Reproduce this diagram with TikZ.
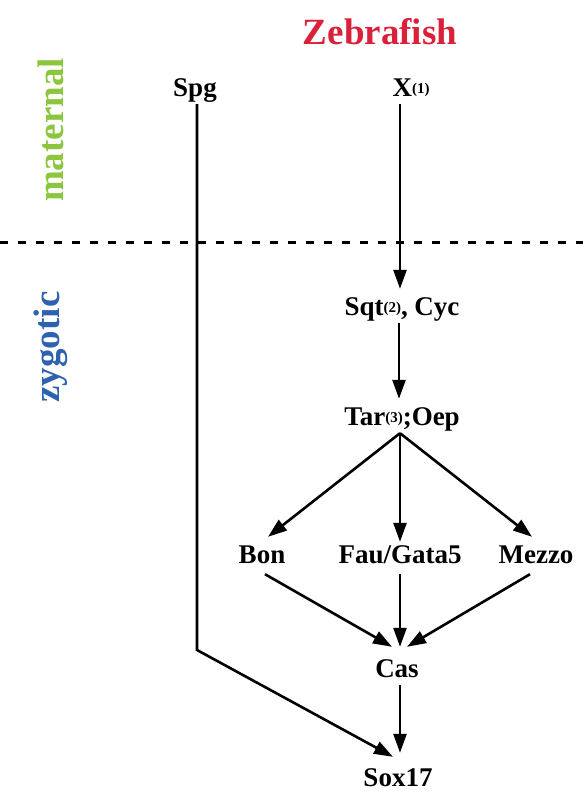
\documentclass[tikz,border=0pt]{standalone}
\usepackage{fontspec}
\setmainfont{Liberation Serif}
\usetikzlibrary{arrows.meta}
\definecolor{zred}{HTML}{D9213A}
\definecolor{mgreen}{HTML}{8CC63F}
\definecolor{zblue}{HTML}{2F62AE}
\newcommand{\supnum}[1]{{\fontsize{15}{15}\selectfont\raisebox{3pt}{#1}}}
\begin{document}
\begin{tikzpicture}[x=1pt,y=-1pt,
  lbl/.style={font=\fontsize{27}{30}\selectfont\bfseries, anchor=base,
    text height=18pt, text depth=0pt, inner xsep=2pt, inner ysep=8pt},
  side/.style={font=\fontsize{37}{40}\selectfont\bfseries, rotate=90, inner sep=0pt},
  arr/.style={line width=2.6pt, -{Triangle[length=19pt,width=13pt]}},
  plain/.style={line width=2.6pt}]
\useasboundingbox (0,0) rectangle (583,792);
% titles
\node[font=\fontsize{37}{40}\selectfont\bfseries, text=zred, anchor=base] (title) at (380,45) {Zebrafish};
\node[side, text=mgreen] (maternal) at (51,130) {maternal};
\node[side, text=zblue] (zygotic) at (51,347) {zygotic};
% separator
\draw[line width=3pt, dash pattern=on 8pt off 10pt] (0,242) -- (583,242);
% nodes
\node[lbl] (spg) at (195,96) {Spg};
\node[lbl] (x) at (411,96) {X\supnum{(1)}};
\node[lbl] (sqt) at (402,315) {Sqt\supnum{(2)}, Cyc};
\node[lbl] (tar) at (402,425) {Tar\supnum{(3)};Oep};
\node[lbl] (bon) at (262,563) {Bon};
\node[lbl] (fau) at (400,563) {Fau/Gata5};
\node[lbl] (mezzo) at (536,563) {Mezzo};
\node[lbl] (cas) at (397,677) {Cas};
\node[lbl, inner ysep=2pt] (sox) at (398,786) {Sox17};
\coordinate (bend) at (197,650);
% connectors
\draw[arr] ([xshift=-11pt]x.south) -- ([xshift=-11pt]x.south |- sqt.north);
\draw[arr] ([xshift=-3pt]sqt.south) -- ([xshift=-3pt]tar.north);
\draw[arr] ([xshift=-2pt]tar.south) -- ([xshift=6pt]bon.north);
\draw[arr] ([xshift=-2pt]tar.south) -- ([yshift=-5pt]fau.north);
\draw[arr] ([xshift=-2pt]tar.south) -- ([xshift=-4pt]mezzo.north);
\draw[arr] ([xshift=3pt,yshift=-3pt]bon.south) -- ([xshift=-5pt,yshift=4pt]cas.north);
\draw[arr] ([yshift=-3pt]fau.south) -- ([xshift=3pt,yshift=4pt]cas.north);
\draw[arr] ([xshift=-6pt,yshift=-3pt]mezzo.south) -- ([xshift=10pt,yshift=4pt]cas.north);
\draw[arr] ([xshift=3pt]cas.south) -- ([xshift=2pt,yshift=13pt]sox.north);
\draw[arr] ([xshift=2pt]spg.south) -- (bend) -- ([xshift=-5pt,yshift=9pt]sox.north);
\end{tikzpicture}
\end{document}
